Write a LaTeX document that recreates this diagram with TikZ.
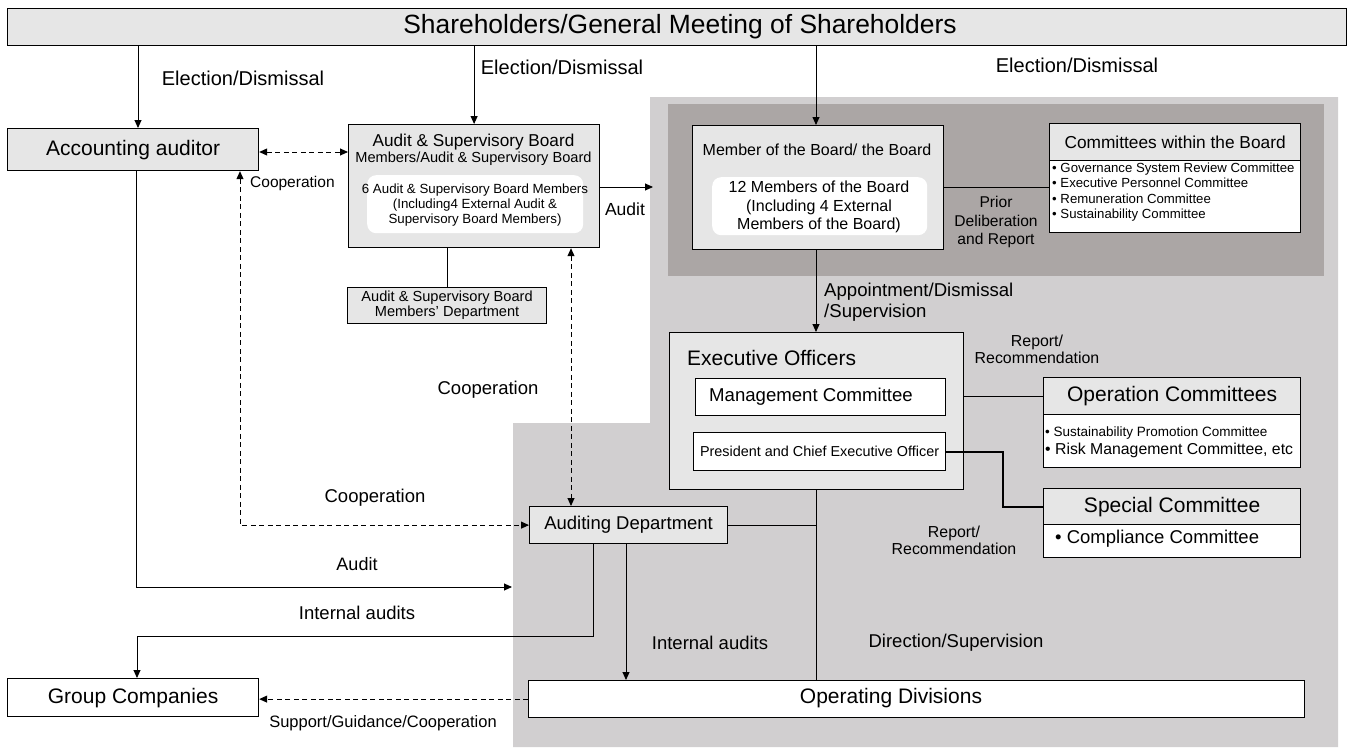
\documentclass[tikz,border=0pt]{standalone}
\usepackage{fontspec}
\setmainfont{Liberation Sans}
\usetikzlibrary{arrows.meta,calc}
\definecolor{lg}{HTML}{E6E6E6}
\definecolor{bgg}{HTML}{D1CFD0}
\definecolor{dkg}{HTML}{ABA6A5}
\begin{document}
\begin{tikzpicture}[x=1pt,y=-1pt,
 box/.style={draw=black,line width=1.2pt,fill=lg,inner sep=0pt,anchor=north west},
 wbox/.style={box,fill=white},
 innerbox/.style={fill=white,rounded corners=9pt,inner sep=0pt,anchor=north west},
 conn/.style={line width=0.9pt},
 arr/.style={conn,-{Triangle[length=8pt,width=7pt]}},
 darr/.style={conn,dash pattern=on 5pt off 3.5pt,{Triangle[length=8pt,width=7pt]}-{Triangle[length=8pt,width=7pt]}},
 darrone/.style={conn,dash pattern=on 5pt off 3.5pt,-{Triangle[length=8pt,width=7pt]}},
 lbl/.style={inner sep=0pt,align=center},
]
\useasboundingbox (0,0) rectangle (1351,747);
% backgrounds
\fill[bgg] (650,97) -- (1338,97) -- (1338,747) -- (513,747) -- (513,423) -- (650,423) -- cycle;
\fill[dkg] (668,104) rectangle (1324,276);

% coordinates
\coordinate (xa) at (138,0);
\coordinate (xm) at (816,0);
\coordinate (yc) at (0,152);
\coordinate (xd) at (240,0);
\coordinate (xb) at (136,0);
\coordinate (xv) at (571,0);
\coordinate (xg) at (593,0);
\coordinate (xi) at (626,0);
\coordinate (xs) at (1003,0);
\coordinate (tipA) at (512,587);
\coordinate (tipB) at (653,187);
\coordinate (c1) at (137,636);

% top
\node[box,minimum width=1339pt,minimum height=37pt] (top) at (7,8) {};
\node[lbl,font=\fontsize{26.4}{28}\selectfont] (topt) at (680,27) {Shareholders/General Meeting of Shareholders};

% accounting auditor
\node[box,minimum width=251pt,minimum height=42pt,font=\fontsize{21}{23}\selectfont] (acc) at (7,128) {Accounting auditor};

% ASB
\node[box,minimum width=251pt,minimum height=123pt] (asb) at (348,124) {};
\node[lbl,font=\fontsize{17.2}{18}\selectfont] (asbt1) at (473.5,142) {Audit \& Supervisory Board};
\node[lbl,font=\fontsize{14.6}{16}\selectfont] (asbt2) at (473.5,159) {Members/Audit \& Supervisory Board};
\node[innerbox,minimum width=216pt,minimum height=58pt] (asbin) at (367,175) {};
\node[lbl,font=\fontsize{13.3}{15}\selectfont] (asbit) at (475,205) {6 Audit \& Supervisory Board Members\\(Including4 External Audit \&\\Supervisory Board Members)};

% ASB dept
\node[box,minimum width=199pt,minimum height=36pt,align=center,font=\fontsize{14.6}{15}\selectfont] (asbd) at (347,287) {Audit \& Supervisory Board\\Members’ Department};

% Board
\node[box,minimum width=251pt,minimum height=124pt] (board) at (692,125) {};
\node[lbl,font=\fontsize{16}{18}\selectfont] (boardt) at (817,150) {Member of the Board/ the Board};
\node[innerbox,minimum width=215pt,minimum height=58pt] (boardin) at (712,177) {};
\node[lbl,font=\fontsize{16}{18.5}\selectfont] (boardit) at (819,207) {12 Members of the Board\\(Including 4 External\\Members of the Board)};

% Committees within the Board
\node[box,minimum width=251pt,minimum height=37pt,font=\fontsize{17.3}{19}\selectfont] (cmth) at (1049,123) {Committees within the Board};
\node[wbox,minimum width=251pt,minimum height=72pt] (cmtb) at (1049,160) {};
\node[lbl,anchor=west,align=left,font=\fontsize{13.2}{15.4}\selectfont] (cmtbt) at (1052,192) {• Governance System Review Committee\\• Executive Personnel Committee\\• Remuneration Committee\\• Sustainability Committee};

% Executive officers
\node[box,minimum width=294pt,minimum height=157pt] (exec) at (669,332) {};
\node[lbl,anchor=west,font=\fontsize{21}{24}\selectfont] (exect) at (687,358) {Executive Officers};
\node[wbox,minimum width=250pt,minimum height=37pt] (mgmt) at (695,378) {};
\node[lbl,font=\fontsize{18.6}{20}\selectfont] (mgmtt) at (811,396.5) {Management Committee};
\node[wbox,minimum width=252pt,minimum height=38pt,font=\fontsize{14.4}{16}\selectfont] (pres) at (693,432) {President and Chief Executive Officer};

% Operation committees
\node[box,minimum width=257pt,minimum height=37pt,font=\fontsize{21}{23}\selectfont] (opch) at (1043,377) {Operation Committees};
\node[wbox,minimum width=257pt,minimum height=53pt] (opcb) at (1043,414) {};
\node[lbl,anchor=west,font=\fontsize{13.5}{15}\selectfont] (opcb1) at (1045,433) {• Sustainability Promotion Committee};
\node[lbl,anchor=west,font=\fontsize{15.8}{17}\selectfont] (opcb2) at (1045,450) {• Risk Management Committee, etc};

% Special committee
\node[box,minimum width=257pt,minimum height=36pt,font=\fontsize{21}{23}\selectfont] (spch) at (1043,488) {Special Committee};
\node[wbox,minimum width=257pt,minimum height=33pt] (spcb) at (1043,524) {};
\node[lbl,anchor=west,font=\fontsize{18.5}{20}\selectfont] (spcbt) at (1055,539) {• Compliance Committee};

% Auditing dept
\node[box,minimum width=198pt,minimum height=37pt,font=\fontsize{18.5}{20}\selectfont] (aud) at (529,506) {Auditing Department};

% Operating divisions
\node[wbox,minimum width=776pt,minimum height=37pt] (opd) at (528,680) {};
\node[lbl,font=\fontsize{21}{23}\selectfont] (opdt) at (891,698) {Operating Divisions};

% Group companies
\node[wbox,minimum width=251pt,minimum height=38pt,font=\fontsize{21}{23}\selectfont] (grp) at (7,678) {Group Companies};

% connectors
\draw[arr] (top.south -| xa) -- (acc.north -| xa);
\draw[arr] (top.south -| asb.north) -- (asb.north);
\draw[arr] (top.south -| xm) -- (board.north -| xm);
\draw[darr] (acc.east |- yc) -- (asb.west |- yc);
\draw[arr] (asb.east |- tipB) -- (tipB);
\draw[conn] (asb.south -| asbd.north) -- (asbd.north);
\draw[darr] (asb.south -| xv) -- (aud.north -| xv);
\draw[darr] (acc.south -| xd) |- (aud.west);
\draw[arr] (acc.south -| xb) |- (tipA);
\draw[arr] (aud.south -| xg) |- (c1) -- (grp.north -| c1);
\draw[arr] (aud.south -| xi) -- (opd.north -| xi);
\draw[darrone] (opd.west) -- (opd.west -| grp.east);
\draw[conn] (board.east) -- (board.east -| cmtb.west);
\draw[arr] (board.south -| xm) -- (exec.north -| xm);
\draw[conn] (opch.west -| exec.east) -- (opch.west);
\draw[line width=1.8pt] (pres.east) -| (xs |- spch.west) -- (spch.west);
\draw[conn] (exec.south -| xm) -- (opd.north -| xm);
\draw[conn] (aud.east) -- (aud.east -| xm);

% labels
\node[lbl,font=\fontsize{20}{22}\selectfont] (l1) at (243,78) {Election/Dismissal};
\node[lbl,font=\fontsize{20}{22}\selectfont] (l2) at (562,67) {Election/Dismissal};
\node[lbl,font=\fontsize{20}{22}\selectfont] (l3) at (1077,65) {Election/Dismissal};
\node[lbl,anchor=west,font=\fontsize{15.5}{17}\selectfont] (l4) at (250,183) {Cooperation};
\node[lbl,font=\fontsize{17.5}{19}\selectfont] (l5) at (625,209) {Audit};
\node[lbl,font=\fontsize{18.5}{20}\selectfont] (l6) at (488,390) {Cooperation};
\node[lbl,font=\fontsize{18.5}{20}\selectfont] (l7) at (375,498) {Cooperation};
\node[lbl,font=\fontsize{18}{20}\selectfont] (l8) at (357,564) {Audit};
\node[lbl,font=\fontsize{18.5}{20}\selectfont] (l9) at (357,613) {Internal audits};
\node[lbl,font=\fontsize{18.5}{20}\selectfont] (l10) at (710,643) {Internal audits};
\node[lbl,font=\fontsize{18.5}{20}\selectfont] (l11) at (956,643) {Direction/Supervision};
\node[lbl,font=\fontsize{16.5}{18}\selectfont] (l12) at (383,723) {Support/Guidance/Cooperation};
\node[lbl,font=\fontsize{15.6}{18.5}\selectfont] (l13) at (996,222) {Prior\\Deliberation\\and Report};
\node[lbl,anchor=west,align=left,font=\fontsize{18.6}{21}\selectfont] (l14) at (824,302.5) {Appointment/Dismissal\\/Supervision};
\node[lbl,font=\fontsize{15.9}{17}\selectfont] (l15) at (1037,349.5) {Report/\\Recommendation};
\node[lbl,font=\fontsize{15.9}{17}\selectfont] (l16) at (954,540.5) {Report/\\Recommendation};
\end{tikzpicture}
\end{document}
